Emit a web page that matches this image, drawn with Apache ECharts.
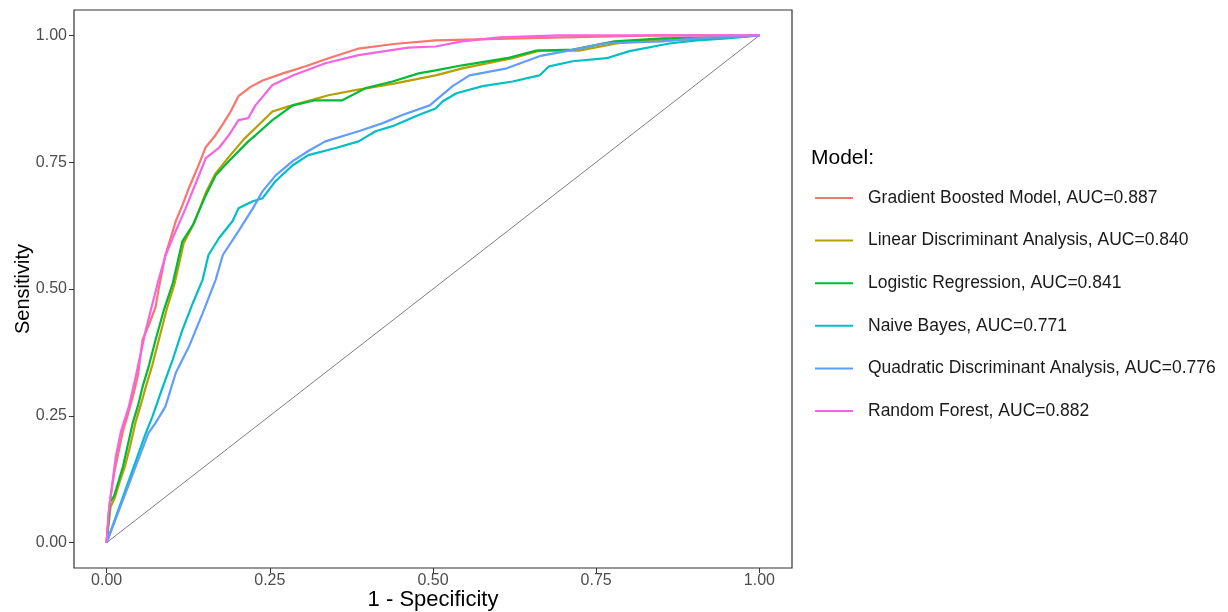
<!DOCTYPE html>
<html><head><meta charset="utf-8">
<script src="https://cdn.jsdelivr.net/npm/echarts@6/dist/echarts.min.js"></script>
<style>html,body{margin:0;padding:0;background:#fff}#c{width:1228px;height:612px}</style>
</head><body><div id="c"></div>
<script>
const modelNames = [
  "Gradient Boosted Model, AUC=0.887",
  "Linear Discriminant Analysis, AUC=0.840",
  "Logistic Regression, AUC=0.841",
  "Naive Bayes, AUC=0.771",
  "Quadratic Discriminant Analysis, AUC=0.776",
  "Random Forest, AUC=0.882"
];
const modelColors = ["#F8766D","#B79F00","#00BA38","#00BFC4","#619CFF","#F564E3"];
const tickValues = [0, 0.25, 0.5, 0.75, 1];

const rocGBM = [[0,0],[0.003,0.05],[0.006,0.09],[0.012,0.14],[0.018,0.177],[0.025,0.22],[0.032,0.25],[0.040,0.287],[0.048,0.33],[0.055,0.40],[0.065,0.43],[0.075,0.465],[0.080,0.502],[0.090,0.567],[0.098,0.60],[0.106,0.634],[0.116,0.665],[0.126,0.699],[0.138,0.735],[0.152,0.780],[0.165,0.80],[0.178,0.825],[0.190,0.850],[0.202,0.880],[0.220,0.898],[0.239,0.911],[0.27,0.925],[0.305,0.939],[0.34,0.955],[0.386,0.974],[0.44,0.983],[0.504,0.990],[0.60,0.993],[0.70,0.996],[0.85,1.0],[1,1]];
const rocLDA = [[0,0],[0.006,0.07],[0.013,0.09],[0.020,0.12],[0.028,0.150],[0.036,0.19],[0.044,0.236],[0.052,0.27],[0.060,0.307],[0.070,0.35],[0.080,0.40],[0.092,0.46],[0.104,0.510],[0.118,0.590],[0.134,0.630],[0.152,0.690],[0.167,0.728],[0.187,0.760],[0.210,0.795],[0.230,0.820],[0.254,0.850],[0.279,0.860],[0.340,0.882],[0.381,0.892],[0.44,0.905],[0.504,0.921],[0.545,0.935],[0.622,0.955],[0.663,0.970],[0.724,0.970],[0.781,0.984],[0.827,0.990],[0.908,0.992],[1,1]];
const rocLR = [[0,0],[0.005,0.08],[0.011,0.091],[0.018,0.12],[0.025,0.150],[0.032,0.19],[0.040,0.236],[0.048,0.27],[0.055,0.307],[0.065,0.35],[0.075,0.40],[0.088,0.46],[0.101,0.510],[0.116,0.594],[0.132,0.626],[0.152,0.685],[0.167,0.724],[0.187,0.752],[0.217,0.791],[0.228,0.803],[0.254,0.833],[0.285,0.862],[0.320,0.872],[0.361,0.872],[0.397,0.896],[0.438,0.909],[0.478,0.925],[0.504,0.931],[0.545,0.941],[0.613,0.955],[0.658,0.970],[0.714,0.972],[0.778,0.988],[0.851,0.994],[0.949,0.996],[1,1]];
const rocNB = [[0,0],[0.060,0.216],[0.070,0.248],[0.086,0.307],[0.101,0.360],[0.116,0.419],[0.132,0.472],[0.147,0.518],[0.156,0.567],[0.172,0.600],[0.193,0.634],[0.202,0.659],[0.224,0.673],[0.239,0.679],[0.259,0.713],[0.285,0.744],[0.309,0.764],[0.351,0.778],[0.386,0.791],[0.412,0.811],[0.438,0.821],[0.478,0.843],[0.504,0.856],[0.515,0.870],[0.536,0.886],[0.576,0.900],[0.622,0.909],[0.663,0.921],[0.678,0.939],[0.714,0.949],[0.766,0.955],[0.801,0.969],[0.862,0.984],[0.904,0.990],[0.95,0.994],[1,1]];
const rocQDA = [[0,0],[0.064,0.216],[0.075,0.236],[0.090,0.268],[0.106,0.335],[0.126,0.386],[0.147,0.452],[0.167,0.518],[0.178,0.567],[0.202,0.614],[0.224,0.659],[0.239,0.693],[0.259,0.724],[0.285,0.752],[0.309,0.772],[0.335,0.791],[0.386,0.811],[0.423,0.827],[0.453,0.843],[0.495,0.862],[0.530,0.900],[0.556,0.921],[0.613,0.935],[0.663,0.959],[0.724,0.974],[0.760,0.984],[0.851,0.988],[0.904,0.994],[1,1]];
const rocRF = [[0,0],[0.003,0.06],[0.008,0.11],[0.014,0.169],[0.022,0.22],[0.034,0.268],[0.045,0.33],[0.060,0.419],[0.070,0.47],[0.080,0.52],[0.090,0.565],[0.101,0.600],[0.121,0.659],[0.137,0.71],[0.152,0.758],[0.172,0.778],[0.187,0.803],[0.202,0.833],[0.217,0.837],[0.228,0.862],[0.254,0.902],[0.285,0.921],[0.335,0.945],[0.386,0.961],[0.462,0.976],[0.504,0.978],[0.545,0.988],[0.602,0.996],[0.694,1.0],[1,1]];
const diagonal = [[0,0],[1,1]];
const rocData = [rocGBM, rocLDA, rocLR, rocNB, rocQDA, rocRF];

const FONT = 'Liberation Sans, Arial, sans-serif';
const chart = echarts.init(document.getElementById('c'), null, {renderer:'canvas'});
const axisCommon = {
  type:'value', min:-0.05, max:1.05,
  splitLine:{show:false},
  axisLine:{show:false, onZero:false},
  axisTick:{show:true, inside:false, length:5, lineStyle:{color:'#333'}, customValues: tickValues},
  nameLocation:'middle',
  nameMoveOverlap:false
};
const labelCommon = {color:'#4d4d4d', fontSize:16, fontFamily:FONT, customValues: tickValues, formatter:v=>v.toFixed(2)};
const series = [{
  type:'line', name:'diag', data:diagonal, showSymbol:false, silent:true,
  lineStyle:{color:'#7f7f7f', width:1}, z:1
}];
modelNames.forEach((n,i)=>{
  series.push({type:'line', name:n, data:rocData[i], showSymbol:false,
    lineStyle:{color:modelColors[i], width:2.2}, itemStyle:{color:modelColors[i]}, z:2+i});
});
chart.setOption({
  animation:false,
  backgroundColor:'#fff',
  grid:{left:74, right:436, top:10, bottom:44, show:true, borderColor:'#333', borderWidth:1.2, backgroundColor:'#fff', outerBoundsMode:'none', containLabel:false},
  xAxis:Object.assign({}, axisCommon, {name:'1 - Specificity', nameGap:21,
    axisLabel:Object.assign({margin:5}, labelCommon),
    nameTextStyle:{color:'#000', fontSize:22, fontFamily:FONT}}),
  yAxis:Object.assign({}, axisCommon, {name:'Sensitivity', nameGap:41,
    axisLabel:Object.assign({margin:7}, labelCommon),
    nameTextStyle:{color:'#000', fontSize:20, fontFamily:FONT}}),
  title:{text:'Model:', left:811, top:148, padding:0, textStyle:{fontSize:21, fontWeight:'normal', color:'#000', fontFamily:FONT}},
  legend:{
    data:modelNames, orient:'vertical', left:815, top:189, padding:0, itemGap:24.6,
    itemWidth:38, itemHeight:2, icon:'rect',
    textStyle:{fontSize:17.5, lineHeight:18, color:'#1a1a1a', padding:[0,0,0,10], fontFamily:FONT},
    selectedMode:false
  },
  series:series
});
</script></body></html>
